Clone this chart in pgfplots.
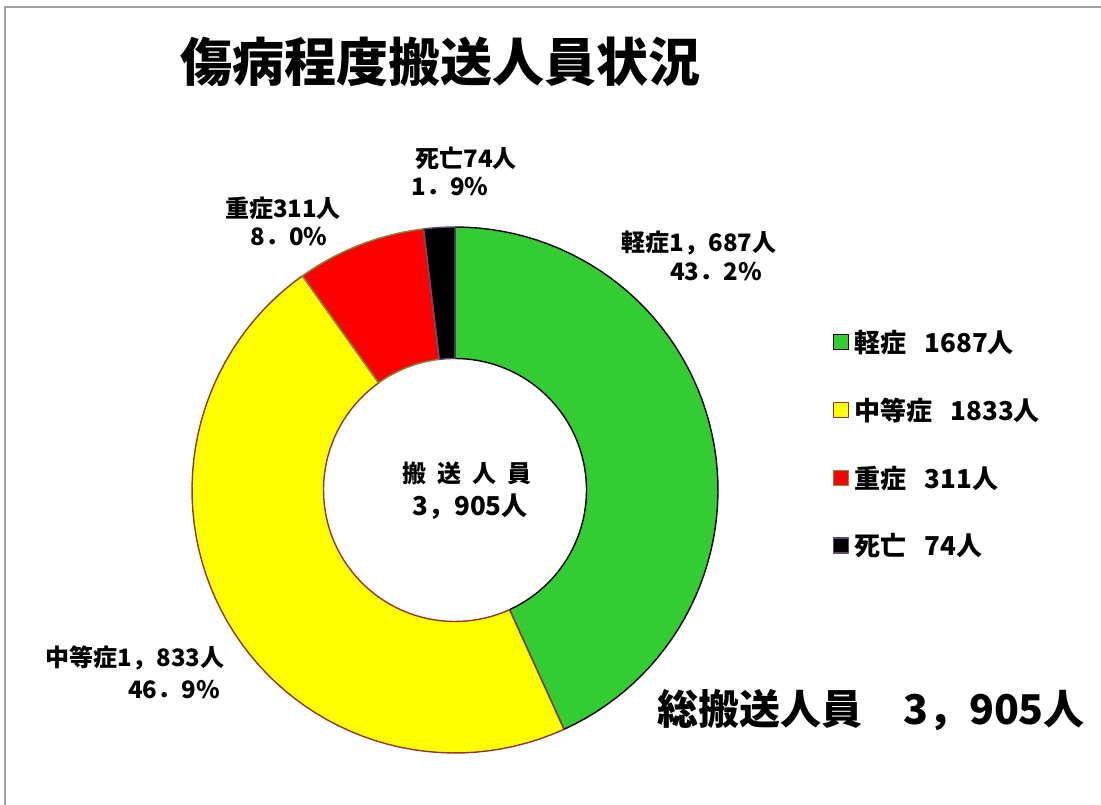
\documentclass[border=0pt]{standalone}
\usepackage{pgfplots}
\pgfplotsset{compat=1.18}
\usepackage{pgfplotstable}
\usepackage{fontspec}
\setmainfont{Noto Sans CJK JP}
\definecolor{cgreen}{HTML}{33CC33}
\definecolor{cyellow}{HTML}{FFFF00}
\definecolor{cred}{HTML}{FF0000}
\definecolor{cblack}{HTML}{000000}
\definecolor{bgreen}{HTML}{000000}
\definecolor{byellow}{HTML}{943634}
\definecolor{bred}{HTML}{77933C}
\definecolor{bblack}{HTML}{5F497A}
\definecolor{frame}{HTML}{A0A0A0}
\pgfplotstableread{
name value
mild 1687
moderate 1833
severe 311
death 74
}\data
\newcommand\fs[1]{\fontsize{#1}{#1}\selectfont}
\newcommand\seg[3]{%
\addplot[#3, line width=1.4pt, line join=round, domain=0:4, samples=241, variable=\t]
({(1-0.5*min(max(\t-1,0),1)+0.5*max(\t-3,0))*cos((#1)+((#2)-(#1))*(min(\t,1)-min(max(\t-2,0),1)))},
 {(1-0.5*min(max(\t-1,0),1)+0.5*max(\t-3,0))*sin((#1)+((#2)-(#1))*(min(\t,1)-min(max(\t-2,0),1)))});
}
\begin{document}
\begin{tikzpicture}[x=1pt,y=1pt]
\path[use as bounding box] (0,0) rectangle (1101,805);
\draw[frame, line width=2pt] (5,-2) -- (5,798) -- (1105,798);
\pgfplotstablegetelem{0}{value}\of\data \let\vA\pgfplotsretval
\pgfplotstablegetelem{1}{value}\of\data \let\vB\pgfplotsretval
\pgfplotstablegetelem{2}{value}\of\data \let\vC\pgfplotsretval
\pgfplotstablegetelem{3}{value}\of\data \let\vD\pgfplotsretval
\pgfmathsetmacro\tot{\vA+\vB+\vC+\vD}
\pgfmathsetmacro\aA{90}
\pgfmathsetmacro\aB{90-360*(\vA/\tot)}
\pgfmathsetmacro\aC{\aB-360*(\vB/\tot)}
\pgfmathsetmacro\aD{\aC-360*(\vC/\tot)}
\pgfmathsetmacro\aE{\aD-360*(\vD/\tot)}
\begin{axis}[at={(455pt,315pt)}, anchor=origin, x=263pt, y=263pt,
  xmin=-1, xmax=1, ymin=-1, ymax=1, hide axis, clip=false,
  legend style={at={(1.2186,0.808)}, anchor=north west, draw=none, fill=none,
    inner sep=0pt, row sep=40pt, font=\fs{26}\bfseries,
    cells={anchor=west}},
  legend image code/.code={\draw[#1, line width=1.2pt] (0pt,-7.5pt) rectangle (15pt,7.5pt);},
]
\seg{\aA}{\aB}{fill=cgreen, draw=bgreen}
\addlegendentry{\hspace{3pt}軽症\hspace{0.7em}1687人}
\seg{\aB}{\aC}{fill=cyellow, draw=byellow}
\addlegendentry{\hspace{3pt}中等症\hspace{0.7em}1833人}
\seg{\aC}{\aD}{fill=cred, draw=bred}
\addlegendentry{\hspace{3pt}重症\hspace{0.7em}311人}
\seg{\aD}{\aE}{fill=cblack, draw=bblack}
\addlegendentry{\hspace{3pt}死亡\hspace{0.7em}74人}
\end{axis}
\node[font=\fs{52}\bfseries] at (440,743) {傷病程度搬送人員状況};
\begin{scope}[every node/.style={font=\fs{24}\bfseries, inner sep=0pt}]
\node at (466,647) {死亡74人};
\node at (450,618) {1．9\%};
\node at (283,597) {重症311人};
\node at (289,568) {8．0\%};
\node at (699,562) {軽症1，687人};
\node at (716,533) {43．2\%};
\node at (135,147) {中等症1，833人};
\node at (174,115) {46．9\%};
\node at (467,332) {搬\hspace{0.45em}送\hspace{0.45em}人\hspace{0.45em}員};
\node[font=\fs{26}\bfseries] at (470,298) {3，905人};
\end{scope}
\node[font=\fs{41}\bfseries, inner sep=0pt] at (871,95) {総搬送人員　3，905人};
\end{tikzpicture}
\end{document}
